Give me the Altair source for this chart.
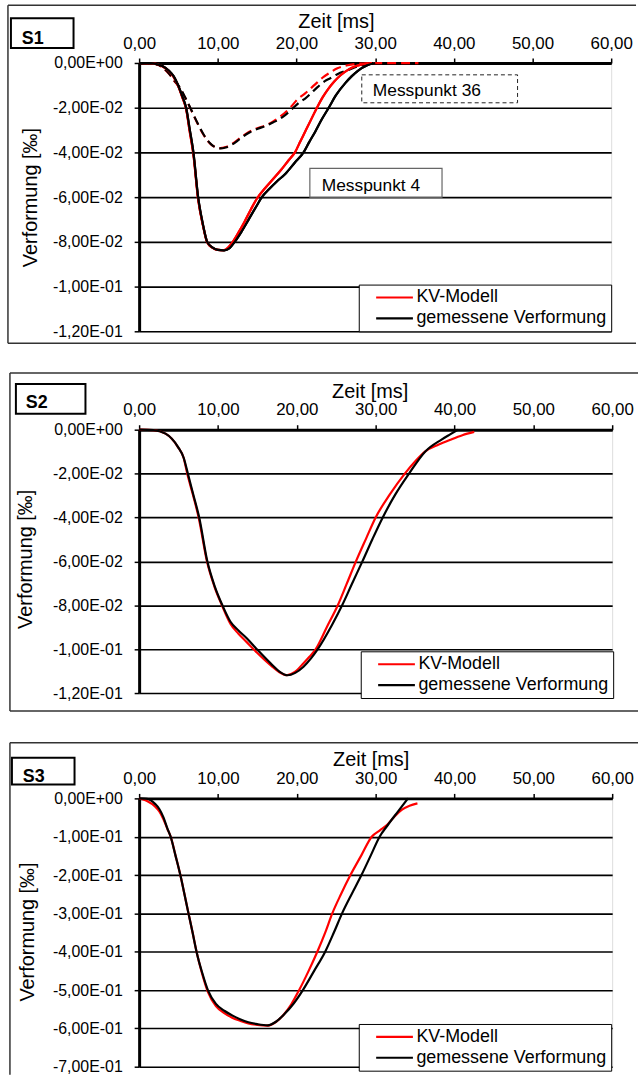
import altair as alt
import pandas as pd

FONT = "Liberation Sans"
SERIES = ["KV-Modell", "gemessene Verformung"]
COLORS = ["#ff0000", "#000000"]

X_TICKS = [0, 10, 20, 30, 40, 50, 60]
Y_TICKS_S = [0, -0.02, -0.04, -0.06, -0.08, -0.10, -0.12]
Y_LABELS_S = ["0,00E+00", "-2,00E-02", "-4,00E-02", "-6,00E-02", "-8,00E-02", "-1,00E-01", "-1,20E-01"]
Y_TICKS_3 = [0, -0.1, -0.2, -0.3, -0.4, -0.5, -0.6, -0.7]
Y_LABELS_3 = ["0,00E+00", "-1,00E-01", "-2,00E-01", "-3,00E-01", "-4,00E-01", "-5,00E-01", "-6,00E-01", "-7,00E-01"]

# ---------------- S1 ----------------
S1_MP4_MEAS_T = [0, 1.5, 2.2, 3.0, 3.8, 4.4, 4.9, 5.5, 6.0, 6.4, 6.9, 7.5, 8.1, 8.65, 9.3, 10.0, 10.8, 11.5, 12.15,
                 13.0, 14.0, 15.0, 15.6, 16.5, 17.5, 18.6, 19.8, 20.9, 21.6, 22.4, 23.2, 24.1, 25.0, 26.2, 27.0, 27.8,
                 29.0, 30.0]
S1_MP4_MEAS_V = [0, -0.0001, -0.0005, -0.0015, -0.0035, -0.006, -0.0095, -0.015, -0.0205, -0.029, -0.04, -0.06,
                 -0.072, -0.08, -0.0825, -0.0836, -0.0838, -0.0828, -0.08, -0.0755, -0.0695, -0.0635, -0.06, -0.0565,
                 -0.053, -0.0495, -0.0445, -0.04, -0.0355, -0.0306, -0.0253, -0.02, -0.0145, -0.009, -0.006, -0.0035,
                 -0.001, 0]
S1_MP4_KV_T = [0, 1.5, 2.2, 3.0, 3.8, 4.4, 4.9, 5.5, 6.0, 6.4, 6.9, 7.5, 8.1, 8.65, 9.3, 10.0, 10.8, 11.4, 11.9, 12.6,
               13.4, 14.2, 15.0, 16.0, 17.0, 18.0, 19.0, 19.8, 20.5, 21.2, 21.9, 22.6, 23.3, 24.0, 24.8, 25.6, 26.5,
               27.5, 28.5, 29.6]
S1_MP4_KV_V = [0, -0.0001, -0.0005, -0.0016, -0.0037, -0.0063, -0.0098, -0.0155, -0.021, -0.03, -0.041, -0.061,
               -0.0725, -0.0802, -0.0826, -0.0836, -0.0837, -0.0822, -0.08, -0.076, -0.071, -0.0655, -0.0605, -0.056,
               -0.052, -0.048, -0.0435, -0.04, -0.035, -0.03, -0.025, -0.02, -0.0155, -0.0118, -0.0083, -0.0055,
               -0.0032, -0.0015, -0.0005, 0]
S1_MP36_MEAS_T = [0, 2.0, 3.0, 3.8, 4.5, 5.1, 5.8, 6.5, 7.3, 8.2, 9.2, 10.3, 11.0, 11.8, 12.8, 13.9, 15.0, 16.0, 17.0,
                  17.7, 18.6, 19.6, 20.4, 21.1, 22.3, 23.6, 24.3, 25.2, 26.6, 27.8, 29.2, 30.0]
S1_MP36_MEAS_V = [0, -0.0003, -0.002, -0.0047, -0.008, -0.0106, -0.015, -0.02, -0.026, -0.032, -0.0365, -0.0382,
                  -0.0378, -0.0365, -0.034, -0.0313, -0.0295, -0.0283, -0.0266, -0.0254, -0.0232, -0.02, -0.0175,
                  -0.0159, -0.012, -0.0081, -0.0068, -0.005, -0.0031, -0.0015, -0.0004, 0]
S1_MP36_KV_T = [0, 2.0, 3.0, 3.8, 4.5, 5.1, 5.8, 6.5, 7.3, 8.2, 9.2, 10.3, 11.0, 11.8, 12.8, 13.9, 15.0, 16.0, 17.0,
                18.0, 19.2, 20.2, 21.1, 22.3, 23.3, 24.3, 25.2, 26.5, 28.0, 30.0, 32.0, 35.5]
S1_MP36_KV_V = [0, -0.0003, -0.0021, -0.0048, -0.0082, -0.0108, -0.0152, -0.0202, -0.0262, -0.0322, -0.0366,
                -0.0381, -0.0376, -0.0362, -0.0336, -0.031, -0.0292, -0.028, -0.0262, -0.0238, -0.02, -0.016,
                -0.0136, -0.0098, -0.0066, -0.0042, -0.0024, -0.001, -0.0003, -0.0001, -0.0001, -0.0001]

# ---------------- S2 ----------------
S2_MEAS_T = [0, 1.8, 3.35, 4.9, 5.66, 6.18, 6.9, 7.62, 8.65, 9.6, 10.56, 11.59, 12.6, 13.65, 14.93, 16.74, 17.8, 18.8,
             19.8, 20.85, 21.8, 22.66, 24.46, 25.75, 27.0, 28.32, 29.6, 30.9, 32.5, 34.24, 36.3, 38.36, 39.5, 40.42]
S2_MEAS_V = [0, -0.0002, -0.0018, -0.0077, -0.0129, -0.02, -0.03, -0.04, -0.06, -0.0715, -0.08, -0.0875, -0.0915,
             -0.095, -0.1, -0.1067, -0.1102, -0.1119, -0.1108, -0.108, -0.1042, -0.1, -0.089, -0.08, -0.0702, -0.06,
             -0.0498, -0.04, -0.0295, -0.02, -0.0099, -0.0045, -0.002, 0]
S2_KV_T = [0, 1.8, 3.35, 4.9, 5.66, 6.1, 6.85, 7.55, 8.6, 9.55, 10.5, 11.59, 12.6, 13.65, 14.93, 16.74, 17.8, 18.7,
           19.7, 20.7, 21.6, 22.4, 23.8, 25.2, 26.3, 27.5, 28.8, 30.0, 31.8, 33.7, 35.0, 36.3, 38.0, 39.4, 41.0, 42.5]
S2_KV_V = [0, -0.0002, -0.0018, -0.0078, -0.013, -0.02, -0.03, -0.04, -0.06, -0.0715, -0.08, -0.0885, -0.093,
           -0.0968, -0.1015, -0.1075, -0.1105, -0.1119, -0.1105, -0.107, -0.1035, -0.1, -0.09, -0.08, -0.0705, -0.06,
           -0.0495, -0.04, -0.0295, -0.02, -0.0145, -0.0099, -0.0068, -0.0047, -0.0025, -0.001]

# ---------------- S3 ----------------
S3_MEAS_T = [0, 1.0, 2.05, 2.56, 3.1, 3.59, 4.0, 4.6, 5.23, 5.75, 6.26, 6.8, 7.28, 8.0, 8.72, 9.74, 10.8, 11.8, 12.8,
             13.85, 15.0, 16.3, 17.4, 18.46, 19.6, 20.77, 22.2, 23.6, 24.7, 25.74, 27.0, 28.2, 29.4, 30.5, 31.5, 32.8,
             34.1]
S3_MEAS_V = [0, -0.001, -0.015, -0.0276, -0.05, -0.079, -0.1, -0.148, -0.2, -0.25, -0.3, -0.352, -0.4, -0.455, -0.5,
             -0.536, -0.554, -0.566, -0.576, -0.584, -0.589, -0.592, -0.582, -0.562, -0.535, -0.5, -0.45, -0.4, -0.35,
             -0.3, -0.248, -0.2, -0.148, -0.1, -0.0707, -0.035, 0]
S3_KV_T = [0, 0.5, 1.0, 2.05, 2.56, 3.1, 3.59, 4.0, 4.6, 5.23, 5.75, 6.26, 6.8, 7.28, 8.0, 8.72, 9.74, 10.8, 11.8,
           12.8, 13.85, 15.0, 16.2, 17.3, 18.3, 19.3, 20.3, 21.5, 22.6, 23.6, 24.5, 25.6, 26.8, 28.2, 29.5, 30.5,
           31.5, 32.4, 33.3, 34.3, 35.3]
S3_KV_V = [0, -0.003, -0.007, -0.022, -0.034, -0.055, -0.08, -0.1, -0.148, -0.2, -0.25, -0.3, -0.352, -0.4, -0.458,
           -0.505, -0.542, -0.56, -0.572, -0.58, -0.587, -0.591, -0.593, -0.584, -0.565, -0.537, -0.5, -0.45, -0.4,
           -0.35, -0.3, -0.25, -0.2, -0.148, -0.1, -0.084, -0.068, -0.047, -0.03, -0.019, -0.013]

ANNOT_TEXT = ["Messpunkt 36", "Messpunkt 4"]
ANNOT_X1 = [28.3, 21.7]
ANNOT_X2 = [48.1, 38.5]
ANNOT_Y1 = [-0.0053, -0.0471]
ANNOT_Y2 = [-0.0178, -0.06]
ANNOT_TX = [29.7, 23.2]
ANNOT_TY = [-0.0147, -0.0572]


def series_df(t_kv, v_kv, t_me, v_me):
    return pd.DataFrame({
        "t": list(t_kv) + list(t_me),
        "v": list(v_kv) + list(v_me),
        "s": [SERIES[0]] * len(t_kv) + [SERIES[1]] * len(t_me),
    })


def label_expr(ticks, labels):
    expr = "''"
    for t, l in reversed(list(zip(ticks, labels))):
        expr = f"abs(datum.value - ({t})) < 1e-9 ? '{l}' : {expr}"
    return expr


ONE = pd.DataFrame({"a": [0]})


def panel(df_list, w, h, ydom, yticks, ylabels, name, geo, annotations=False):
    ox, oy, cell_h = geo["ox"], geo["oy"], geo["cell_h"]
    xs = alt.Scale(domain=[0, 60], nice=False, zero=False)
    ys = alt.Scale(domain=ydom, nice=False, zero=False)
    xax = alt.Axis(orient="top", values=X_TICKS, labelExpr="replace(format(datum.value, '.2f'), '.', ',')",
                   grid=False, domainColor="black", domainWidth=3, tickColor="black", tickWidth=1.5, tickSize=5,
                   labelFontSize=17, labelPadding=6, labelColor="black", labelFlush=False, labelFont=FONT,
                   title="Zeit [ms]", titleFontSize=20, titleFontWeight="normal", titleColor="black",
                   titleFont=FONT, titleX=geo["tx"], titleY=geo["ty"], titleAlign="center",
                   titleBaseline="alphabetic")
    yax = alt.Axis(values=yticks, labelExpr=label_expr(yticks, ylabels), grid=True, gridColor="black",
                   gridWidth=1.6, gridOpacity=1, domainColor="black", domainWidth=3, tickColor="black",
                   tickWidth=1.5, tickSize=5, labelFontSize=16, labelPadding=12, labelColor="black",
                   labelFont=FONT, labelOverlap=False, title="Verformung [‰]", titleFontSize=20,
                   titleFontWeight="normal", titleColor="black", titleFont=FONT, titleX=geo["yx"],
                   titleY=geo["yy"], titleAlign="center", titleBaseline="bottom", titleAngle=270)
    cscale = alt.Scale(domain=SERIES, range=COLORS)
    legend = alt.Legend(orient="none", legendX=geo["lx"], legendY=geo["ly"], title=None,
                        symbolType="M-3,0H3", symbolSize=152, symbolStrokeWidth=2.2,
                        labelFontSize=18, labelFont=FONT, labelColor="black",
                        strokeColor="black", fillColor="white", padding=4, rowPadding=3,
                        labelOffset=13, symbolOffset=23, labelLimit=400)

    def X(field):
        return alt.X(field, scale=xs, axis=xax)

    def Y(field):
        return alt.Y(field, scale=ys, axis=yax)

    def line(df, dash):
        mk = dict(strokeWidth=2.2, interpolate="monotone", clip=False)
        if dash:
            mk["strokeDash"] = [9, 5]
        return alt.Chart(df).mark_line(**mk).encode(
            x=X("t:Q"), y=Y("v:Q"), color=alt.Color("s:N", scale=cscale, legend=legend),
            order=alt.Order("t:Q"))

    out = [line(df_list[0][0], False)]
    # invisible extent marker (defines the cell bounds)
    out.append(alt.Chart(ONE).mark_rule(color="white", strokeWidth=0.5).encode(
        x=alt.value(-ox + 0.25), y=alt.value(-oy + 0.25), y2=alt.value(cell_h - oy - 0.25)))
    bc = "#333333"
    out.append(alt.Chart(ONE).mark_rule(color=bc, strokeWidth=1.5).encode(
        x=alt.value(geo["bl"]), x2=alt.value(639 - ox), y=alt.value(geo["bt"])))
    out.append(alt.Chart(ONE).mark_rule(color=bc, strokeWidth=1.5).encode(
        x=alt.value(geo["bl"]), y=alt.value(geo["bt"]), y2=alt.value(geo["bb"])))
    if geo.get("bottom", True):
        out.append(alt.Chart(ONE).mark_rule(color=bc, strokeWidth=1.5).encode(
            x=alt.value(geo["bl"]), x2=alt.value(639 - ox), y=alt.value(geo["bb"])))
    sb = geo["sbox"]
    out.append(alt.Chart(ONE).mark_rect(fill="white", stroke="black", strokeWidth=2).encode(
        x=alt.value(sb[0]), x2=alt.value(sb[1]), y=alt.value(sb[2]), y2=alt.value(sb[3])))
    out.append(alt.Chart(ONE).mark_text(text=name, font=FONT, fontSize=18, fontWeight="bold", align="left",
                                         baseline="alphabetic", color="black").encode(
        x=alt.value(geo["sx"]), y=alt.value(geo["sy"])))
    if annotations:
        annot = pd.DataFrame({"x1": ANNOT_X1, "x2": ANNOT_X2, "y1": ANNOT_Y1, "y2": ANNOT_Y2,
                              "txt": ANNOT_TEXT, "tx": ANNOT_TX, "ty": ANNOT_TY})
        out.append(alt.Chart(annot.iloc[[0]]).mark_rect(fill="white", stroke="#222222", strokeWidth=1,
                                                        strokeDash=[4, 3]).encode(
            x=X("x1:Q"), x2="x2:Q", y=Y("y1:Q"), y2="y2:Q"))
        out.append(alt.Chart(annot.iloc[[1]]).mark_rect(fill="white", stroke="#666666", strokeWidth=1.2).encode(
            x=X("x1:Q"), x2="x2:Q", y=Y("y1:Q"), y2="y2:Q"))
        out.append(alt.Chart(annot).mark_text(font=FONT, fontSize=17.5, align="left", baseline="alphabetic",
                                              color="black").encode(
            x=X("tx:Q"), y=Y("ty:Q"), text="txt:N"))
    for df, dash in df_list[1:]:
        out.append(line(df, dash))
    if annotations:
        out.append(line(df_list[0][0], False))
    return alt.layer(*out).properties(width=w, height=h)


geo1 = dict(ox=139, oy=59, cell_h=357, tx=198, ty=-36, yx=-99, yy=135, lx=221, ly=223,
            bl=-132, bt=-58, bb=282, sbox=(-129, -66, -45, -15), sx=-118, sy=-19)
geo2 = dict(ox=137, oy=69, cell_h=367, tx=232, ty=-32, yx=-104, yy=130, lx=223, ly=223,
            bl=-130, bt=-57, bb=283, sbox=(-124, -54, -46, -16), sx=-114, sy=-22)
geo3 = dict(ox=137, oy=71, cell_h=349, tx=233, ty=-33, yx=-102, yy=134, lx=221, ly=227,
            bl=-130, bt=-56, bb=278, bottom=False, sbox=(-128, -65, -41, -14), sx=-117, sy=-16)

p1 = panel([(series_df(S1_MP4_KV_T, S1_MP4_KV_V, S1_MP4_MEAS_T, S1_MP4_MEAS_V), False),
            (series_df(S1_MP36_KV_T, S1_MP36_KV_V, S1_MP36_MEAS_T, S1_MP36_MEAS_V), True)],
           475, 270, [-0.12, 0], Y_TICKS_S, Y_LABELS_S, "S1", geo1, annotations=True)
p2 = panel([(series_df(S2_KV_T, S2_KV_V, S2_MEAS_T, S2_MEAS_V), False)],
           476, 265, [-0.12, 0], Y_TICKS_S, Y_LABELS_S, "S2", geo2)
p3 = panel([(series_df(S3_KV_T, S3_KV_V, S3_MEAS_T, S3_MEAS_V), False)],
           476, 270, [-0.7, 0], Y_TICKS_3, Y_LABELS_3, "S3", geo3)

chart = alt.vconcat(p1, p2, p3, spacing=0).resolve_scale(color="independent").properties(
    padding=0, background="white").configure_view(stroke=None).configure(font=FONT)

chart.save("out.html", embed_options={"renderer": "svg", "actions": False})
